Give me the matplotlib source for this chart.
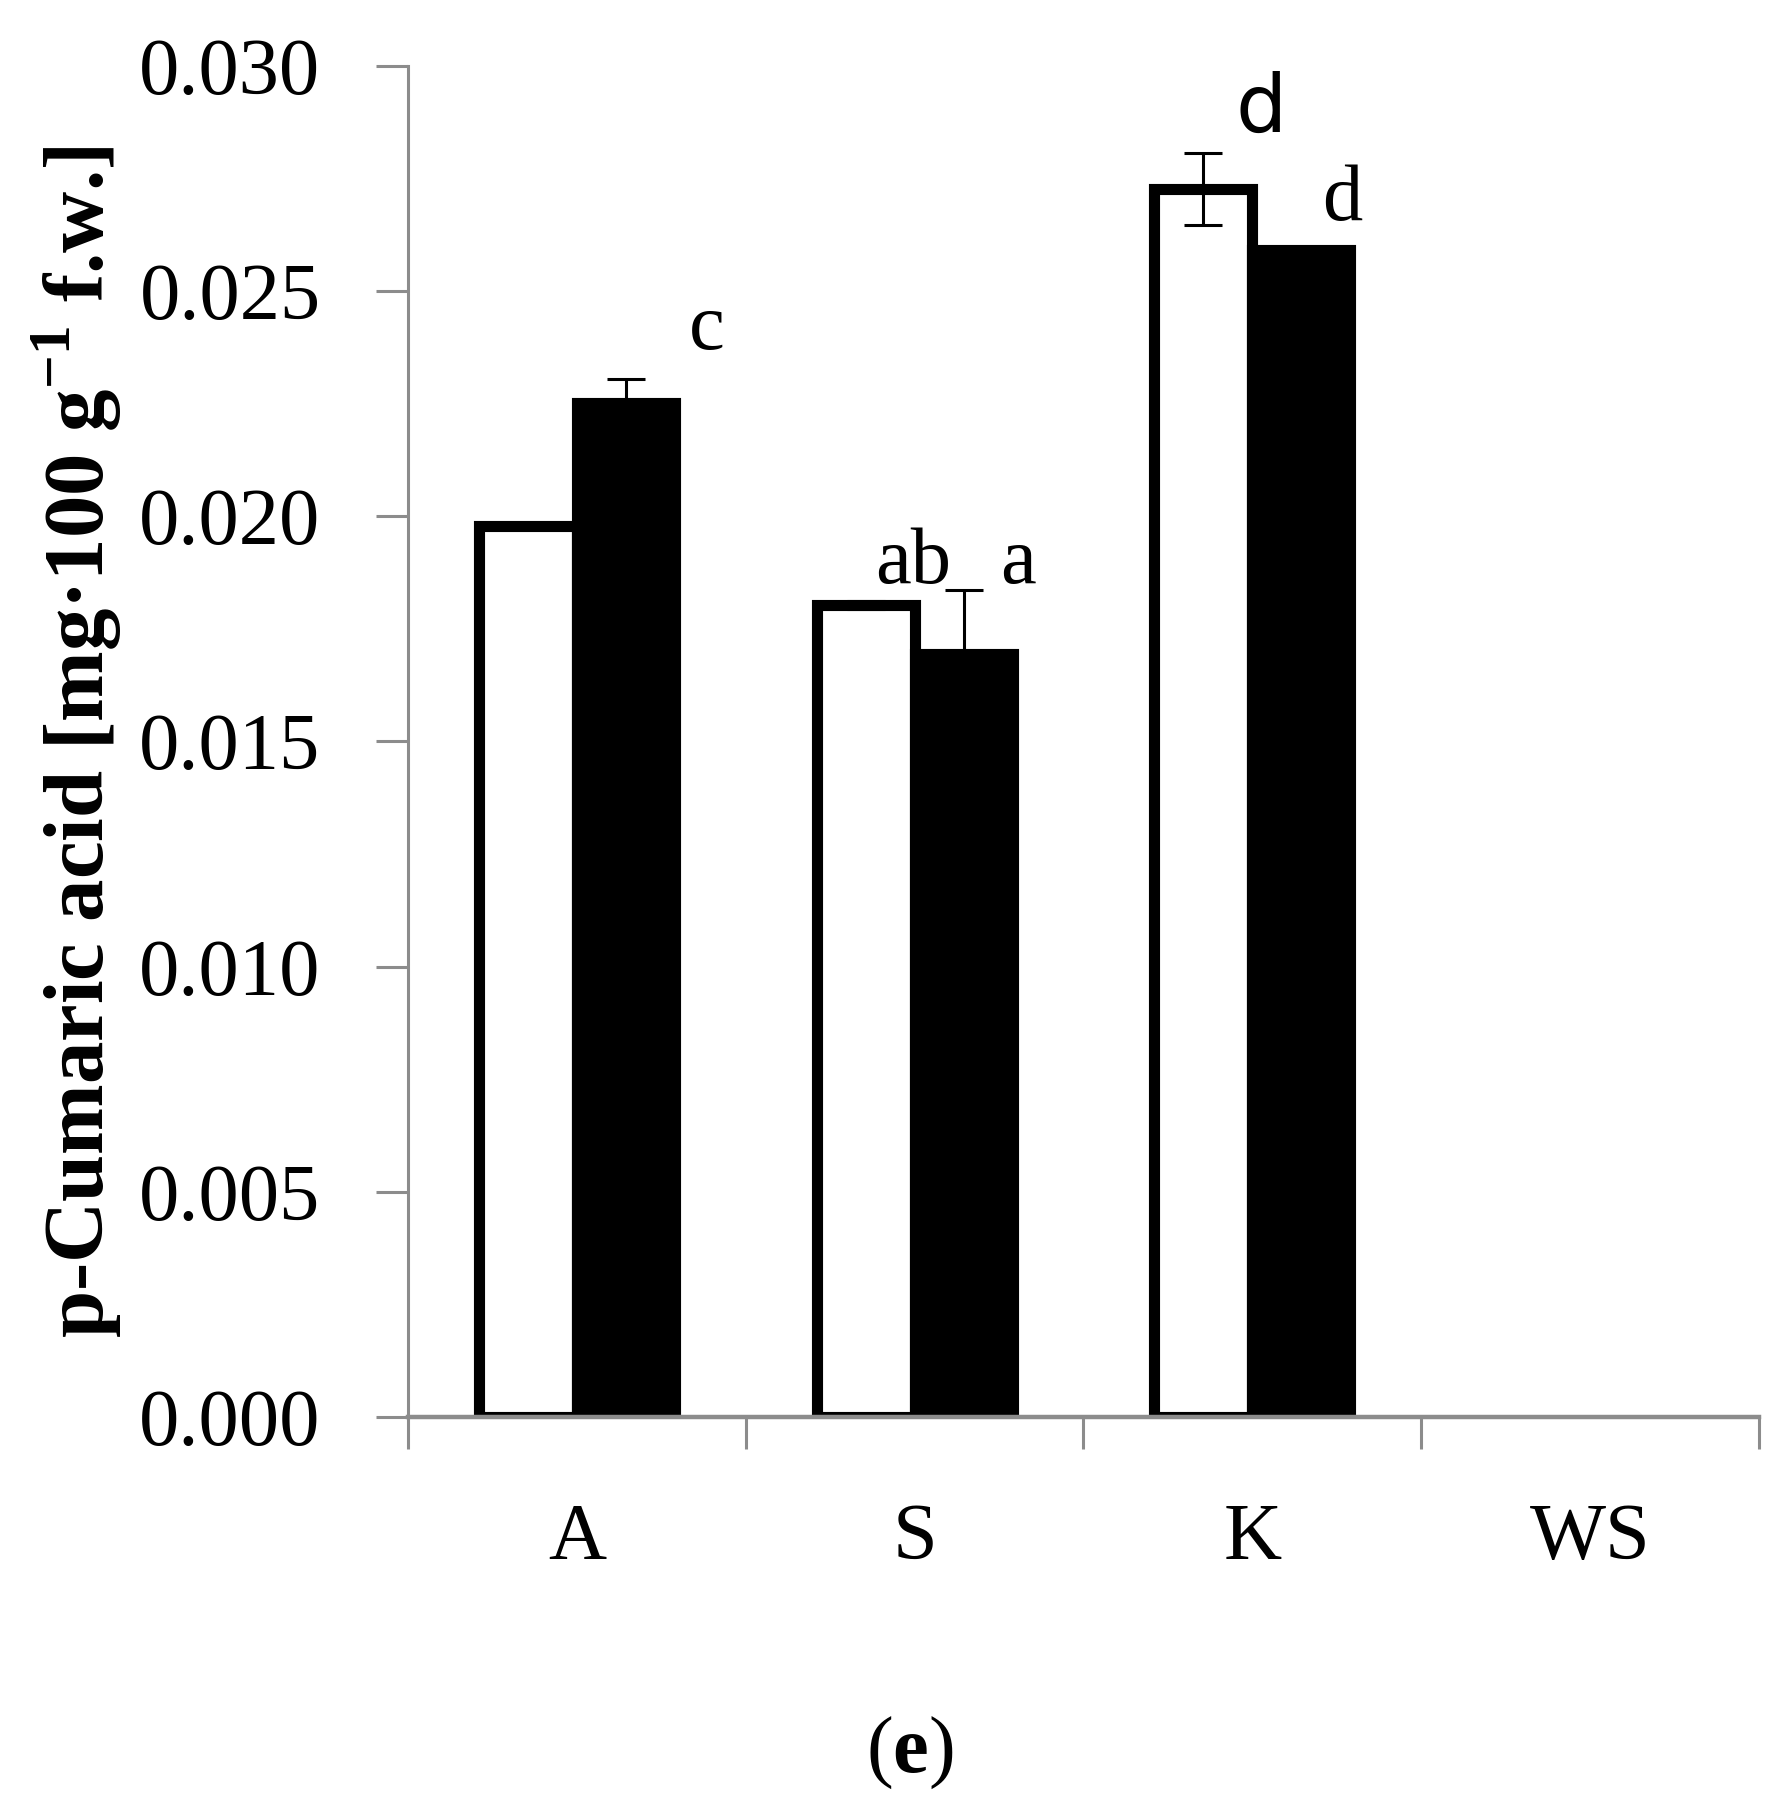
import matplotlib
matplotlib.use('Agg')
import matplotlib.pyplot as plt
import numpy as np

categories = ['A', 'S', 'K', 'WS']
white_vals = [0.01978, 0.01803, 0.02728]
white_err = [0.00003, 0.00008, 0.00080]
black_vals = [0.02252, 0.01695, 0.02592]
black_err = [0.00052, 0.00141, 0.0]
white_letters = ['', 'ab', 'd']
black_letters = ['c', 'a', 'd']

plt.rcParams['font.family'] = ['Liberation Serif', 'DejaVu Serif']
plt.rcParams['mathtext.fontset'] = 'custom'
plt.rcParams['mathtext.rm'] = 'Liberation Serif'
plt.rcParams['mathtext.bf'] = 'Liberation Serif:bold'

fig = plt.figure( figsize = ( 17.71, 18.05 ), dpi = 100 )
ax = fig.add_axes( [ 0.2304, 0.2150, 0.7628, 0.7484 ] )

x = np.arange( len( white_vals ) )
w = 0.29
ax.bar( x - w / 2, white_vals, w, color = 'white', edgecolor = 'black', linewidth = 8, zorder = 1 )
ax.bar( x + w / 2, black_vals, w, color = 'black', edgecolor = 'black', linewidth = 8, zorder = 1 )
ax.errorbar( x - w / 2, white_vals, yerr = white_err, fmt = 'none', ecolor = 'black',
             elinewidth = 2.2, capsize = 14, capthick = 2.2, zorder = 3 )
ax.errorbar( x + w / 2, black_vals, yerr = [ np.zeros( 3 ), black_err ], fmt = 'none', ecolor = 'black',
             elinewidth = 2.2, capsize = 14, capthick = 2.2, zorder = 3 )

# letter annotations (offsets tuned by eye)
w_off = [ ( 0, 0 ), ( 0.14, 0.00085 ), ( 0.17, 0.00095 ) ]
b_off = [ ( 0.24, 0.0011 ), ( 0.16, 0.0006 ), ( 0.12, 0.0011 ) ]
for i in range( len( white_vals ) ):
    if white_letters[ i ]:
        ax.text( x[ i ] - w / 2 + w_off[ i ][ 0 ], white_vals[ i ] + white_err[ i ] + w_off[ i ][ 1 ],
                 white_letters[ i ], fontsize = 58, ha = 'center', va = 'center',
                 family = 'DejaVu Sans' if i == 2 else None )
    ax.text( x[ i ] + w / 2 + b_off[ i ][ 0 ], black_vals[ i ] + black_err[ i ] + b_off[ i ][ 1 ],
             black_letters[ i ], fontsize = 58, ha = 'center', va = 'center' )

ax.set_xlim( -0.5, 3.5 )
ax.set_ylim( 0, 0.030 )
ax.set_yticks( np.arange( 0, 0.0301, 0.005 ) )
ax.set_yticklabels( [ '%.3f' % v for v in np.arange( 0, 0.0301, 0.005 ) ] )
ax.set_xticks( np.arange( 4 ) )
ax.set_xticklabels( categories )
ax.set_xticks( np.arange( -0.5, 3.6, 1 ), minor = True )

for s in [ 'top', 'right' ]:
    ax.spines[ s ].set_visible( False )
ax.spines[ 'left' ].set_color( '#8c8c8c' )
ax.spines[ 'left' ].set_linewidth( 2.2 )
ax.spines[ 'bottom' ].set_color( '#8c8c8c' )
ax.spines[ 'bottom' ].set_linewidth( 3.2 )
ax.spines[ 'bottom' ].set_zorder( 4 )

ax.tick_params( axis = 'y', direction = 'out', length = 23, width = 2.2, color = '#8c8c8c',
                pad = 40, labelsize = 58 )
ax.tick_params( axis = 'x', which = 'major', length = 0, pad = 62, labelsize = 58 )
ax.tick_params( axis = 'x', which = 'minor', direction = 'out', length = 23, width = 2.2, color = '#8c8c8c' )

ax.set_ylabel( 'p-Cumaric acid [mg·100 g$^{\\mathbf{-1}}$ f.w.]', fontsize = 61, fontweight = 'bold' )
ax.yaxis.set_label_coords( -0.210, 0.5 )

fig.text( 0.514, 0.029, '($\\mathbf{e}$)', fontsize = 58, ha = 'center', va = 'center' )

fig.savefig( 'out.png', dpi = 100 )
